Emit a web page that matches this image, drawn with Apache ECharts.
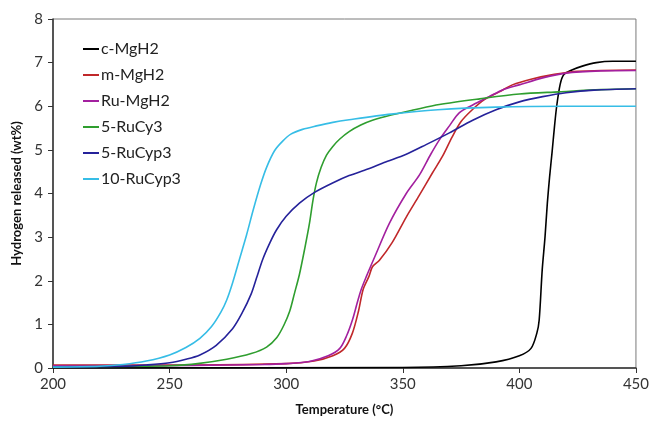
<!DOCTYPE html>
<html>
<head>
<meta charset="utf-8">
<script src="https://cdn.jsdelivr.net/npm/echarts@6/dist/echarts.min.js"></script>
<style>html,body{margin:0;padding:0;background:#fff}#c{width:652px;height:426px}</style>
</head>
<body>
<div id="c"></div>
<script>
var seriesNames = ['c-MgH2','m-MgH2','Ru-MgH2','5-RuCy3','5-RuCyp3','10-RuCyp3'];
var seriesColors = ['#000000','#c0282a','#a3209f','#2f9e2f','#25229a','#36bde6'];
var xTicks = [200,250,300,350,400,450];
var yTicks = [0,1,2,3,4,5,6,7,8];

var cMgH2 = [[200,0.0],[350,0.01],[375,0.05],[390,0.14],[400,0.28],[405,0.45],[407.5,0.8],[408.5,1.1],[409.8,2.25],[411,3.0],[412,3.78],[413,4.4],[414,4.93],[415,5.5],[416,6.0],[417.5,6.5],[419,6.72],[422,6.82],[427,6.92],[433,7.0],[440,7.03],[450,7.03]];
var mMgH2 = [[200,0.07],[260,0.07],[300,0.1],[312,0.16],[320,0.28],[325,0.45],[328.4,0.8],[331,1.3],[333,1.8],[335.5,2.1],[337,2.32],[340,2.47],[345.5,2.88],[351.5,3.46],[357,3.95],[362.7,4.47],[367,4.85],[371.2,5.3],[375,5.65],[379.8,5.92],[385,6.15],[391.4,6.33],[397,6.49],[405,6.62],[415,6.73],[425,6.8],[450,6.83]];
var ruMgH2 = [[200,0.05],[260,0.06],[290,0.08],[300,0.1],[310,0.15],[318,0.28],[323,0.45],[326,0.75],[328.4,1.1],[330.5,1.5],[332.1,1.79],[334.4,2.1],[338,2.55],[344.3,3.32],[351.5,4.0],[357.1,4.42],[362,4.9],[365.7,5.23],[370,5.55],[374.2,5.85],[380,6.03],[387,6.22],[393,6.38],[399.9,6.49],[410,6.65],[420,6.76],[435,6.81],[450,6.82]];
var ruCy3 = [[200,0.03],[240,0.04],[250,0.05],[262,0.1],[274.5,0.2],[285,0.33],[291.6,0.48],[296,0.7],[299,0.98],[301.5,1.3],[303.5,1.7],[305.7,2.15],[308,2.75],[310,3.32],[311.5,3.85],[313,4.25],[315,4.6],[317.3,4.88],[320,5.08],[323,5.25],[327,5.42],[332,5.57],[337,5.68],[345,5.8],[355,5.92],[365.7,6.04],[383,6.17],[400,6.28],[417,6.33],[435,6.38],[450,6.4]];
var ruCyp3 = [[200,0.02],[230,0.04],[240,0.07],[250,0.12],[257,0.2],[263,0.3],[270,0.52],[277,0.9],[281,1.25],[285,1.7],[287.2,2.05],[290,2.5],[293,2.87],[295.9,3.17],[300,3.48],[305.7,3.78],[312,4.02],[319.9,4.24],[327,4.41],[335,4.56],[342,4.71],[351.5,4.9],[360,5.12],[370,5.39],[380,5.68],[390,5.92],[400,6.1],[410,6.22],[420,6.31],[432,6.37],[450,6.4]];
var ruCyp3_10 = [[200,0.02],[220,0.04],[230,0.08],[240,0.16],[250,0.3],[257,0.47],[263,0.68],[268,0.95],[272,1.28],[274.5,1.56],[277,1.95],[280,2.5],[283,3.05],[286,3.65],[289,4.2],[291.6,4.6],[295,4.98],[298.5,5.2],[302,5.36],[307,5.47],[313,5.55],[320,5.63],[327,5.69],[345,5.82],[365,5.92],[390,5.98],[420,6.0],[450,6.0]];

var allData = [cMgH2, mMgH2, ruMgH2, ruCy3, ruCyp3, ruCyp3_10];

var font = 'Lato, "Open Sans", "Liberation Sans", sans-serif';
var chart = echarts.init(document.getElementById('c'));
chart.setOption({
  animation: false,
  backgroundColor: '#ffffff',
  grid: {left: 53, right: 15, top: 19, bottom: 58, show: true, borderColor: '#7a7a7a', borderWidth: 1, containLabel: false},
  legend: {
    orient: 'vertical', left: 78, top: 35,
    data: seriesNames,
    icon: 'rect', itemWidth: 16, itemHeight: 2, itemGap: 8,
    textStyle: {fontFamily: font, fontSize: 16, color: '#222', padding: [0,0,0,-3], lineHeight: 18}
  },
  xAxis: {
    type: 'value', min: xTicks[0], max: xTicks[xTicks.length-1], interval: 50,
    name: 'Temperature (°C)', nameLocation: 'middle', nameGap: 35,
    nameTextStyle: {fontFamily: font, fontSize: 13, fontWeight: 'bold', color: '#111'},
    axisLine: {show: true, lineStyle: {color: '#333', width: 1.5}},
    axisTick: {show: true, inside: false, length: 5, lineStyle: {color: '#333'}},
    axisLabel: {fontFamily: font, fontSize: 15, color: '#333', margin: 9},
    splitLine: {show: false}
  },
  yAxis: {
    type: 'value', min: yTicks[0], max: yTicks[yTicks.length-1], interval: 1,
    name: 'Hydrogen released (wt%)', nameLocation: 'middle', nameGap: 28,
    nameTextStyle: {fontFamily: font, fontSize: 13, fontWeight: 'bold', color: '#111'},
    axisLine: {show: true, lineStyle: {color: '#333', width: 1.5}},
    axisTick: {show: true, inside: false, length: 5, lineStyle: {color: '#333'}},
    axisLabel: {fontFamily: font, fontSize: 15, color: '#333', margin: 10},
    splitLine: {show: false}
  },
  series: seriesNames.map(function(n, i){
    return {
      name: n, type: 'line', data: allData[i], showSymbol: false, symbol: 'none',
      smooth: 0.3, lineStyle: {color: seriesColors[i], width: 1.6}, itemStyle: {color: seriesColors[i]}
    };
  })
});
</script>
</body>
</html>
